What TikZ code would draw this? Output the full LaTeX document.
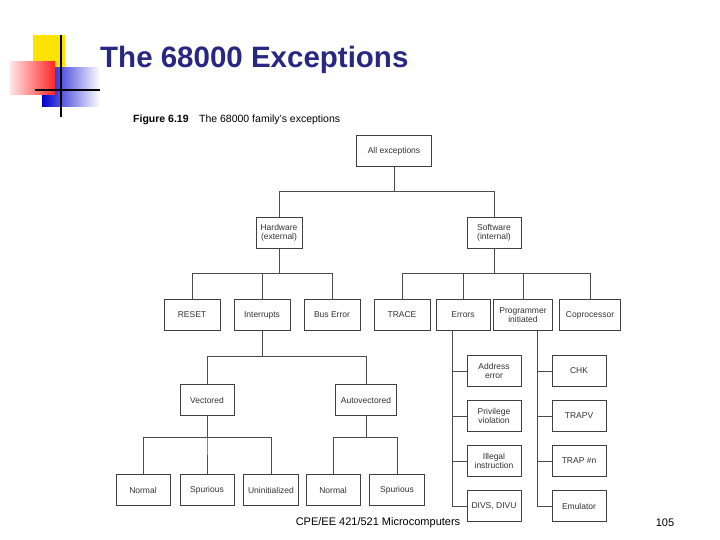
\documentclass[tikz,border=0pt]{standalone}
\usepackage{fontspec}
\setmainfont{Liberation Sans}
\begin{document}
\begin{tikzpicture}[x=1pt,y=-1pt,
 bx/.style={draw=black!75,line width=0.6pt,fill=white,minimum width=54pt,minimum height=31pt,inner sep=1pt,align=center,font=\fontsize{8.5}{9.5}\selectfont,text=black!80},
 ln/.style={draw=black!70,line width=0.6pt}]
\useasboundingbox (0,0) rectangle (720,540);
% logo
\fill[yellow!85!orange] (33,35) rectangle (65,67);
\shade[left color=blue!80!black,right color=white] (42,68) rectangle (100,107);
\shade[left color=red!10,right color=red!85] (10,62) rectangle (55,95);
\draw[line width=2pt] (61,35) -- (61,117);
\draw[line width=2pt] (35,90) -- (100,90);
\node[anchor=west,inner sep=0pt,font=\bfseries\fontsize{29.5}{32}\selectfont,text={rgb,255:red,40;green,40;blue,130}] (title) at (100,60) {The 68000 Exceptions};
\node[anchor=west,inner sep=0pt,font=\bfseries\fontsize{10.5}{12}\selectfont] (fig) at (133,120) {Figure 6.19\quad\mdseries The 68000 family's exceptions};
% boxes
\node[bx,minimum width=75pt] (all) at (394,151) {All exceptions};
\node[bx,minimum width=46pt] (hw) at (279,233) {Hardware\\(external)};
\node[bx] (sw) at (494,233) {Software\\(internal)};
\node[bx,minimum width=56pt] (reset) at (192,315) {RESET};
\node[bx,minimum width=56pt] (intr) at (262,315) {Interrupts};
\node[bx,minimum width=56pt] (bus) at (332,315) {Bus Error};
\node[bx,minimum width=56pt] (trace) at (402,315) {TRACE};
\node[bx] (err) at (463,315) {Errors};
\node[bx,minimum width=59pt] (prog) at (523,315) {Programmer\\initiated};
\node[bx,minimum width=61pt] (cop) at (590,315) {Coprocessor};
\node[bx] (vec) at (207,400) {Vectored};
\node[bx,minimum width=61pt] (auto) at (366,400) {Autovectored};
\node[bx] (n1) at (143,490) {Normal};
\node[bx] (s1) at (207,490) {Spurious};
\node[bx,minimum width=55pt] (u1) at (271,490) {Uninitialized};
\node[bx] (n2) at (333,490) {Normal};
\node[bx,minimum width=55pt] (s2) at (397,490) {Spurious};
\node[bx] (ae) at (494,371) {Address\\error};
\node[bx] (pv) at (494,416) {Privilege\\violation};
\node[bx] (ii) at (494,461) {Illegal\\instruction};
\node[bx] (dv) at (494,506) {DIVS, DIVU};
\node[bx] (chk) at (579,371) {CHK};
\node[bx] (trapv) at (579,416) {TRAPV};
\node[bx] (trapn) at (579,461) {TRAP \#n};
\node[bx] (emu) at (579,506) {Emulator};
% connectors
\draw[ln] (all.south) -- ++(0,25) -| (hw.north);
\draw[ln] (all.south) -- ++(0,25) -| (sw.north);
\foreach \c in {reset,intr,bus} \draw[ln] (hw.south) -- ++(0,24) -| (\c.north);
\foreach \c in {trace,err,prog,cop} \draw[ln] (sw.south) -- ++(0,24) -| (\c.north);
\foreach \c in {vec,auto} \draw[ln] (intr.south) -- ++(0,25) -| (\c.north);
\foreach \c in {n1,s1,u1} \draw[ln] (vec.south) -- ++(0,21) -| (\c.north);
\foreach \c in {n2,s2} \draw[ln] (auto.south) -- ++(0,21) -| (\c.north);
\coordinate (ej) at ([xshift=-11pt]err.south);
\coordinate (pj) at ([xshift=14pt]prog.south);
\foreach \c in {ae,pv,ii,dv} \draw[ln] (ej) |- (\c.west);
\foreach \c in {chk,trapv,trapn,emu} \draw[ln] (pj) |- (\c.west);
% footer
\node[font=\fontsize{11}{13}\selectfont] (foot) at (378,523) {CPE/EE 421/521 Microcomputers};
\node[font=\fontsize{11}{13}\selectfont] (pg) at (665,523) {105};
\end{tikzpicture}
\end{document}
